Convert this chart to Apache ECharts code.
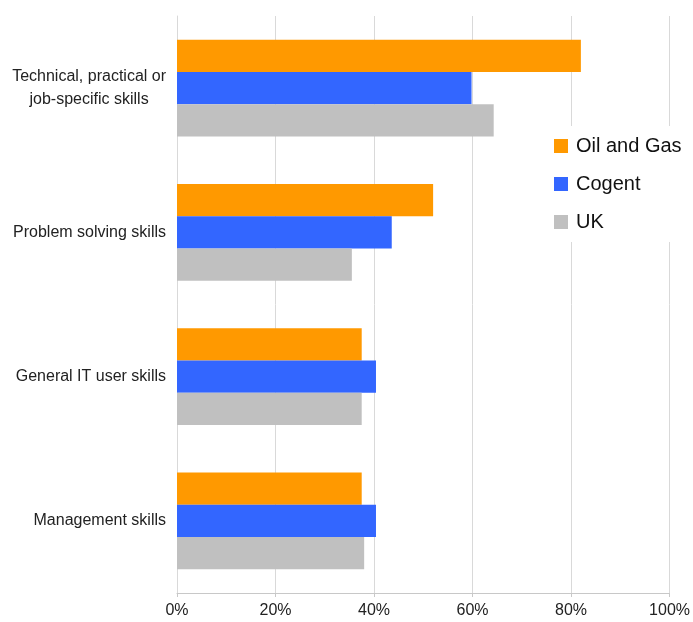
<!DOCTYPE html>
<html>
<head>
<meta charset="utf-8">
<script src="https://cdn.jsdelivr.net/npm/echarts@6/dist/echarts.min.js"></script>
<style>
html, body { margin: 0; padding: 0; background: #fff; }
#chart { width: 693px; height: 622px; }
</style>
</head>
<body>
<div id="chart"></div>
<script>
var categories = ['Technical, practical or\njob-specific skills', 'Problem solving skills', 'General IT user skills', 'Management skills'];
var seriesNames = ['Oil and Gas', 'Cogent', 'UK'];
var oilGas = [82, 52, 37.5, 37.5];
var cogent = [59.8, 43.6, 40.4, 40.4];
var uk = [64.3, 35.5, 37.5, 38];
var ticks = [0, 20, 40, 60, 80, 100];

var myChart = echarts.init(document.getElementById('chart'));

var font = 'Liberation Sans, Arial, sans-serif';

var option = {
    color: ['#ff9900', '#3366ff', '#c0c0c0'],
    textStyle: { fontFamily: font },
    legend: {
        orient: 'vertical',
        left: 548,
        top: 126,
        itemWidth: 14,
        itemHeight: 14,
        itemGap: 18,
        padding: [10, 8, 10, 6],
        backgroundColor: '#fff',
        icon: 'rect',
        textStyle: { fontSize: 20, color: '#111', fontFamily: font, padding: [0, 0, 0, 3] },
        data: seriesNames
    },
    grid: { left: 177, right: 23, top: 16, bottom: 29 },
    xAxis: {
        type: 'value',
        min: ticks[0],
        max: ticks[ticks.length - 1],
        interval: 20,
        axisLine: { show: true, lineStyle: { color: '#c8c8c8' } },
        axisTick: { show: true, length: 4, lineStyle: { color: '#c8c8c8' } },
        splitLine: { lineStyle: { color: '#d9d9d9' } },
        axisLabel: {
            formatter: '{value}%',
            color: '#222',
            fontSize: 16,
            margin: 10,
            fontFamily: font
        }
    },
    yAxis: {
        type: 'category',
        inverse: true,
        data: categories,
        axisLine: { show: true, lineStyle: { color: '#d9d9d9' } },
        axisTick: { show: false },
        axisLabel: {
            color: '#222',
            fontSize: 16,
            margin: 11,
            lineHeight: 23,
            fontFamily: font,
            formatter: function (v) {
                return v.split('\n').map(function (s) { return '{c|' + s + '}'; }).join('\n');
            },
            rich: { c: { align: 'center', fontSize: 16, lineHeight: 23, color: '#222', fontFamily: font } }
        }
    },
    series: [
        { name: seriesNames[0], type: 'bar', data: oilGas, barGap: '0%', barCategoryGap: '33%' },
        { name: seriesNames[1], type: 'bar', data: cogent, barGap: '0%', barCategoryGap: '33%' },
        { name: seriesNames[2], type: 'bar', data: uk, barGap: '0%', barCategoryGap: '33%' }
    ]
};

myChart.setOption(option);
</script>
</body>
</html>
